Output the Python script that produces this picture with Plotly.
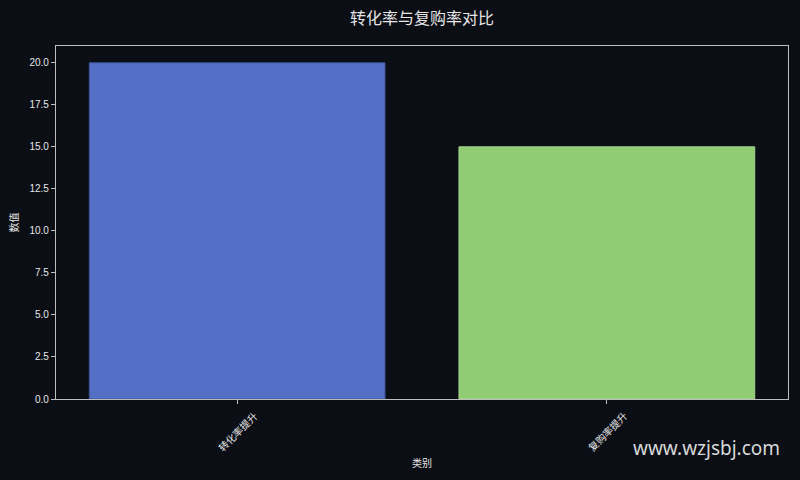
import plotly.graph_objects as go

# data
categories = ["转化率提升", "复购率提升"]
values = [20, 15]
bar_colors = ["#5470c6", "#91cc75"]
edge_colors = ["#3d5499", "#a6d98c"]
y_ticks = [0, 2.5, 5, 7.5, 10, 12.5, 15, 17.5, 20]

BG = "#0b0e15"
FG = "#e6e6e6"
CJK = "Noto Sans CJK SC, Liberation Sans, sans-serif"

fig = go.Figure()
fig.add_trace(go.Bar(
    x=categories,
    y=values,
    width=0.8,
    marker=dict(color=bar_colors, line=dict(color=edge_colors, width=1)),
))

# rotated category labels centred under each tick
for c in categories:
    fig.add_annotation(
        x=c, y=0, xref="x", yref="paper",
        text=c, textangle=-45, showarrow=False,
        xanchor="center", yanchor="middle", yshift=-32,
        font=dict(family=CJK, size=10, color=FG),
    )

fig.add_annotation(
    x=1, y=0, xref="paper", yref="paper",
    text="www.wzjsbj.com", showarrow=False,
    xanchor="right", yanchor="top", xshift=-6, yshift=-34,
    font=dict(family="Noto Sans, Open Sans, sans-serif", size=19, color="#d8d8d8"),
)

fig.update_layout(
    width=800, height=480,
    margin=dict(l=56, r=12, t=46, b=81),
    paper_bgcolor=BG, plot_bgcolor=BG,
    showlegend=False,
    title=dict(text="转化率与复购率对比", xref="paper", x=0.5, xanchor="center",
               y=0.962, yanchor="middle",
               font=dict(family=CJK, size=16, color=FG)),
    font=dict(family="Liberation Sans, " + CJK, color=FG, size=10),
)
fig.update_xaxes(
    range=[-0.49, 1.49], showgrid=False, zeroline=False,
    showline=True, linecolor="#bdbdbd", linewidth=1.2, mirror=True,
    ticks="outside", ticklen=4, tickcolor="#bdbdbd", showticklabels=False,
    title=dict(text="类别", font=dict(family=CJK, size=10, color=FG), standoff=56),
)
fig.update_yaxes(
    range=[0, 21], showgrid=False, zeroline=False,
    showline=True, linecolor="#bdbdbd", linewidth=1.2, mirror=True,
    ticks="outside", ticklen=4, tickcolor="#bdbdbd",
    tickvals=y_ticks, tickformat=".1f",
    tickfont=dict(family="Liberation Sans, sans-serif", size=10, color=FG),
    title=dict(text="数值", font=dict(family=CJK, size=10, color=FG), standoff=8),
)

fig.write_html("out.html", config={"displayModeBar": False},
               post_script="document.body.style.margin='0';")
